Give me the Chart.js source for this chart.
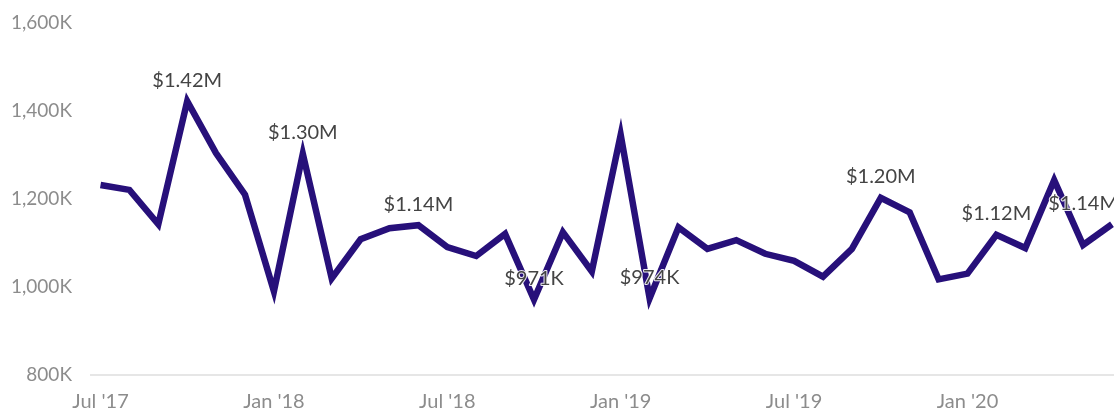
<!DOCTYPE html>
<html>
<head>
<meta charset="utf-8">
<script src="https://cdn.jsdelivr.net/npm/chart.js@4"></script>
<style>
  html, body { margin: 0; padding: 0; background: #fff; overflow: hidden; }
  #wrap { width: 1114px; height: 421px; position: relative; }
</style>
</head>
<body>
<div id="wrap"><canvas id="salesChart"></canvas></div>
<script>
// monthly totals in thousands of dollars, Jul '17 .. Jun '20
const months = [
    "Jul '17", "Aug '17", "Sep '17", "Oct '17", "Nov '17", "Dec '17",
    "Jan '18", "Feb '18", "Mar '18", "Apr '18", "May '18", "Jun '18",
    "Jul '18", "Aug '18", "Sep '18", "Oct '18", "Nov '18", "Dec '18",
    "Jan '19", "Feb '19", "Mar '19", "Apr '19", "May '19", "Jun '19",
    "Jul '19", "Aug '19", "Sep '19", "Oct '19", "Nov '19", "Dec '19",
    "Jan '20", "Feb '20", "Mar '20", "Apr '20", "May '20", "Jun '20"
];
const totals = [
    1231, 1220, 1142, 1421, 1303, 1209,
    990, 1302, 1019, 1108, 1133, 1140,
    1090, 1070, 1120, 971, 1124, 1035,
    1345, 974, 1135, 1086, 1106, 1075,
    1059, 1023, 1086, 1202, 1169, 1017,
    1030, 1118, 1088, 1242, 1095, 1142
];
// points that carry a value label
const labeledPoints = [3, 7, 11, 15, 19, 27, 31, 35];
const yTicks = [800, 1000, 1200, 1400, 1600];

const FONT = 'Lato, "Open Sans", sans-serif';

function money(k) {
    if (k >= 1000) return '$' + (k / 1000).toFixed(2) + 'M';
    return '$' + Math.round(k) + 'K';
}

// draws the $ labels above the chosen points, with a white halo
const pointLabels = {
    id: 'pointLabels',
    afterDatasetsDraw(chart) {
        const ctx = chart.ctx;
        const meta = chart.getDatasetMeta(0);
        ctx.save();
        ctx.font = '20px ' + FONT;
        ctx.textAlign = 'center';
        ctx.textBaseline = 'middle';
        ctx.lineJoin = 'round';
        labeledPoints.forEach(i => {
            const pt = meta.data[i];
            const txt = money(totals[i]);
            const w = ctx.measureText(txt).width;
            let x = pt.x;
            // keep label inside the canvas
            if (x + w / 2 > chart.width + 4) x = chart.width + 4 - w / 2;
            const y = pt.y - 21;
            ctx.strokeStyle = 'rgba(255,255,255,0.9)';
            ctx.lineWidth = 2;
            ctx.strokeText(txt, x, y);
            ctx.fillStyle = '#444444';
            ctx.fillText(txt, x, y);
        });
        ctx.restore();
    }
};

new Chart(document.getElementById('salesChart'), {
    type: 'line',
    data: {
        datasets: [{
            data: totals.map((v, i) => ({ x: i, y: v })),
            borderColor: '#27107a',
            borderWidth: 6.5,
            pointRadius: 0,
            tension: 0,
            fill: false
        }]
    },
    options: {
        responsive: true,
        maintainAspectRatio: false,
        animation: false,
        layout: { padding: { top: 11, right: 0, left: 0, bottom: 0 } },
        plugins: {
            legend: { display: false },
            tooltip: { enabled: false }
        },
        scales: {
            x: {
                type: 'linear',
                min: -0.33,
                max: 35.07,
                afterBuildTicks(axis) {
                    axis.ticks = [0, 6, 12, 18, 24, 30].map(v => ({ value: v }));
                },
                ticks: {
                    autoSkip: false,
                    maxRotation: 0,
                    color: '#8c8c8c',
                    font: { family: FONT, size: 20 },
                    padding: 7,
                    callback: v => months[v]
                },
                grid: { display: false },
                border: { display: true, color: '#e6e6e6', width: 2 }
            },
            y: {
                min: 800,
                max: 1600,
                afterBuildTicks(axis) {
                    axis.ticks = yTicks.map(v => ({ value: v }));
                },
                ticks: {
                    color: '#8c8c8c',
                    font: { family: FONT, size: 19 },
                    padding: 11,
                    callback: v => v.toLocaleString('en-US') + 'K'
                },
                grid: { display: false },
                border: { display: false }
            }
        }
    },
    plugins: [pointLabels]
});
</script>
</body>
</html>
